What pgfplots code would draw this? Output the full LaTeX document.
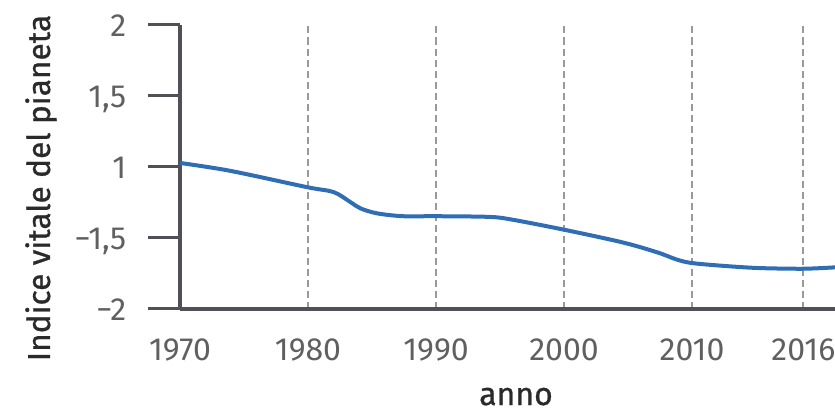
\documentclass[border=0pt]{standalone}
\usepackage{fontspec}
\setmainfont{Fira Sans}
\newfontfamily\labelfont[FakeBold=0.8]{Fira Sans}
\usepackage{pgfplots}
\pgfplotsset{compat=1.18}
\definecolor{curve}{HTML}{2F6DB5}
\definecolor{axisgray}{HTML}{505058}
\definecolor{tickgray}{HTML}{606060}
\definecolor{gridgray}{HTML}{9A9A9A}
\definecolor{labelgray}{HTML}{2A2A2A}
\begin{document}
\begin{tikzpicture}
\useasboundingbox (0,0) rectangle (250.5pt,123.3pt);
\begin{axis}[
  at={(54pt,30.75pt)}, anchor=origin,
  x=38.4pt, y=21.3pt,
  xmin=0, xmax=5.12, ymin=0, ymax=4,
  axis x line*=bottom, axis y line*=left,
  axis line style={-, axisgray, line width=1.2pt},
  xtick={0,1,2,3,4,4.87},
  xticklabels={1970,1980,1990,2000,2010,2016},
  ytick={0,1,2,3,4},
  yticklabels={−2,−1{,}5,1,1{,}5,2},
  xtick style={draw=none},
  ytick style={axisgray, line width=1.0pt},
  tick align=outside,
  major tick length=9.6pt,
  xmajorgrids,
  major grid style={gridgray, line width=0.55pt, dash pattern=on 2.1pt off 1.2pt},
  tick label style={font=\fontsize{9.6pt}{11pt}\selectfont, text=tickgray},
  xticklabel style={anchor=base, yshift=-5.85pt},
  yticklabel style={anchor=base east, yshift=-3.45pt, xshift=-3pt},
  clip=false,
]
\addplot[curve, line width=1.2pt, smooth, tension=0.5] coordinates {
  (0,2.05) (0.39,1.94) (0.99,1.71) (1.20,1.64) (1.33,1.50) (1.41,1.41)
  (1.54,1.34) (1.74,1.30) (2.0,1.30) (2.42,1.29) (2.6,1.25) (3.0,1.11)
  (3.46,0.93) (3.73,0.79) (3.88,0.69) (4.0,0.64) (4.25,0.60) (4.52,0.57)
  (4.87,0.56) (5.12,0.58)
};
\end{axis}
\node[rotate=90, anchor=center, font=\labelfont\fontsize{9.5pt}{11pt}\selectfont, text=labelgray] at (12.3pt,66.9pt) {Indice vitale del pianeta};
\node[anchor=base, font=\labelfont\fontsize{9.6pt}{11pt}\selectfont, text=labelgray] at (154.8pt,1.8pt) {anno};
\end{tikzpicture}
\end{document}
